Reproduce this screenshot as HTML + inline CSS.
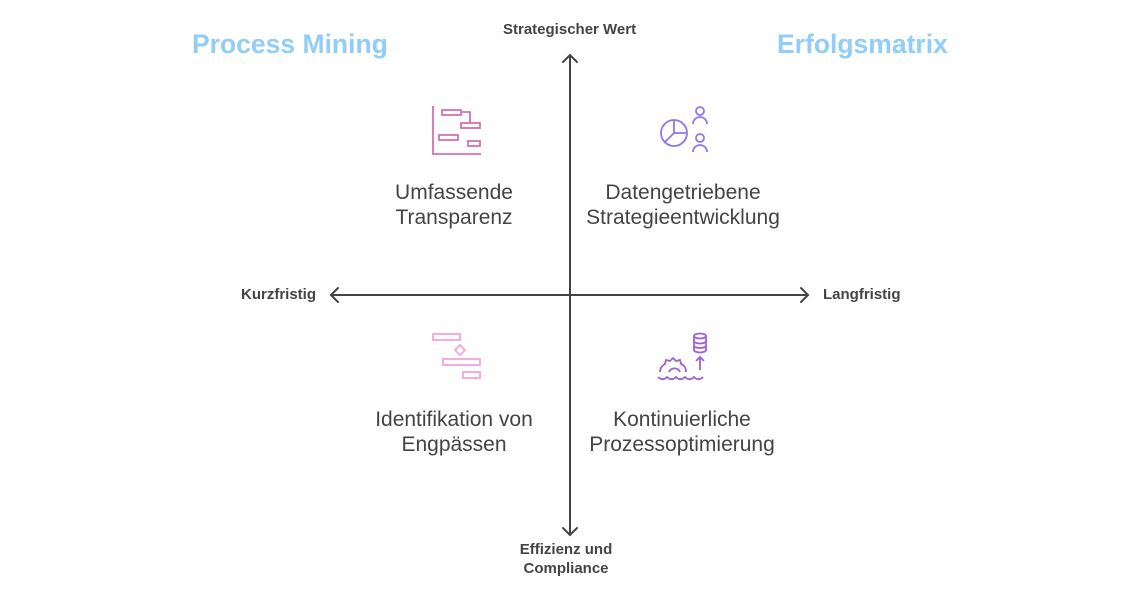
<!DOCTYPE html>
<html><head><meta charset="utf-8"><style>
body{margin:0;background:#fff;width:1140px;height:600px;overflow:hidden;position:relative;font-family:"Liberation Sans",sans-serif}
.t{position:absolute;white-space:nowrap}
.title{font-size:26.5px;font-weight:bold;color:#90cdf8}
.ax{font-size:15px;font-weight:bold;color:#444}
.lab{font-size:21px;color:#444;text-align:center;line-height:25px}
</style></head><body>
<div class="t title" style="left:192px;top:29px">Process Mining</div>
<div class="t title" style="left:777px;top:29px">Erfolgsmatrix</div>
<div class="t ax" style="left:503px;top:21px">Strategischer Wert</div>
<div class="t ax" style="left:241px;top:286px">Kurzfristig</div>
<div class="t ax" style="left:823px;top:286px">Langfristig</div>
<div class="t ax" style="left:510px;top:540px;width:112px;text-align:center;line-height:19px">Effizienz und<br>Compliance</div>
<div class="t lab" style="left:354px;top:180px;width:200px">Umfassende<br>Transparenz</div>
<div class="t lab" style="left:563px;top:180px;width:240px">Datengetriebene<br>Strategieentwicklung</div>
<div class="t lab" style="left:339px;top:407px;width:230px">Identifikation von<br>Engpässen</div>
<div class="t lab" style="left:562px;top:407px;width:240px">Kontinuierliche<br>Prozessoptimierung</div>
<svg width="1140" height="600" style="position:absolute;left:0;top:0" fill="none">
<g stroke="#444" stroke-width="2" stroke-linecap="round">
<line x1="570" y1="55" x2="570" y2="535"/>
<polyline points="563,62 570,55 577,62"/>
<polyline points="563,528 570,535 577,528"/>
<line x1="331" y1="295" x2="808" y2="295"/>
<polyline points="338,288 331,295 338,302"/>
<polyline points="801,288 808,295 801,302"/>
</g>
<g stroke="#d670b0" stroke-width="1.8">
<polyline points="433,106 433,154 481,154"/>
<rect x="442" y="110" width="19" height="5"/>
<rect x="461" y="123" width="19" height="5"/>
<rect x="439" y="135" width="19" height="5"/>
<rect x="468" y="141" width="12" height="5"/>
<polyline points="461,112 470,112 470,123"/>
</g>
<g stroke="#8b78ee" stroke-width="1.8">
<circle cx="674" cy="133" r="13"/>
<polyline points="674,120 674,133 687,133"/><line x1="674" y1="133" x2="665" y2="142"/>
<circle cx="700" cy="111" r="4"/><path d="M693 124a7 7 0 0 1 14 0"/>
<circle cx="700" cy="138" r="4"/><path d="M693 152a7 7 0 0 1 14 0"/>
</g>
<g stroke="#f5a3d8" stroke-width="1.8">
<rect x="433" y="334" width="27" height="6"/>
<rect x="443" y="359" width="37" height="6"/>
<rect x="463" y="372" width="17" height="6"/>
<path d="M460 345l5 5-5 5-5-5z"/>
</g>
<g stroke="#a060d0" stroke-width="1.8">
<ellipse cx="700" cy="336" rx="6" ry="2.5"/>
<path d="M694 336v14a6 2.5 0 0 0 12 0v-14M694 341a6 2.5 0 0 0 12 0M694 345.5a6 2.5 0 0 0 12 0"/>
<path d="M700 370v-13M696 361l4-4 4 4"/>
<path d="M660 372c0-5 3-7 5-8l1-4 4 1 3-3 3 3 4-1 1 4c3 1 5 4 5 8"/>
<path d="M669 372a6 6 0 0 1 11 0"/>
<path d="M658 377c3 3 6 3 9 0c3 3 6 3 9 0c3 3 6 3 9 0c3 3 6 3 9 0c3 3 6 3 9 0"/>
</g>
</svg>
</body></html>
